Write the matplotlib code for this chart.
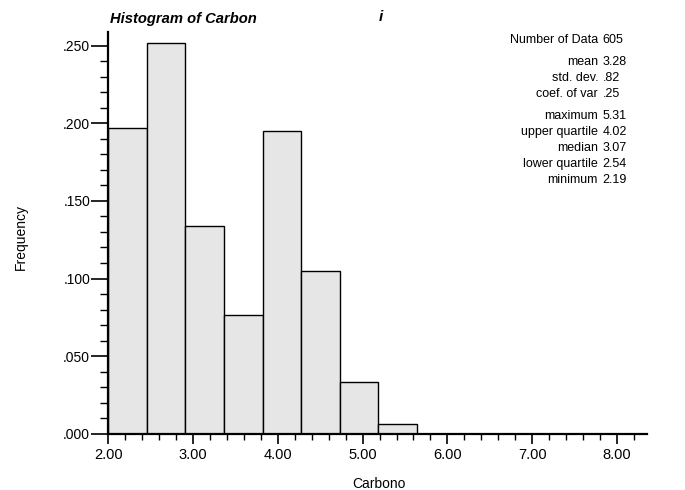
import numpy as np
import matplotlib
matplotlib.use('Agg')
import matplotlib.pyplot as plt
from matplotlib.ticker import MultipleLocator, FuncFormatter

plt.rcParams['font.family'] = ['Liberation Sans', 'DejaVu Sans']

# histogram of Carbon (relative frequency per class)
bin_edges = [2.0, 2.455, 2.91, 3.365, 3.82, 4.275, 4.73, 5.185, 5.64]
frequency = [0.197, 0.252, 0.134, 0.0765, 0.195, 0.105, 0.0335, 0.0063]

stat_labels = ['Number of Data', 'mean', 'std. dev.', 'coef. of var',
               'maximum', 'upper quartile', 'median', 'lower quartile', 'minimum']
stat_values = ['605', '3.28', '.82', '.25', '5.31', '4.02', '3.07', '2.54', '2.19']

fig = plt.figure(figsize=(6.85, 4.9), dpi=100)
ax = fig.add_axes([0.158, 0.115, 0.786, 0.820])

edges = np.array(bin_edges)
ax.bar(edges[:-1], frequency, width=np.diff(edges), align='edge',
       color='#e6e6e6', edgecolor='black', linewidth=1.0)

ax.set_xlim(2.0, 8.35)
ax.set_ylim(0, 0.259)
ax.xaxis.set_major_locator(MultipleLocator(1.0))
ax.xaxis.set_minor_locator(MultipleLocator(0.2))
ax.yaxis.set_major_locator(MultipleLocator(0.05))
ax.yaxis.set_minor_locator(MultipleLocator(0.01))
ax.xaxis.set_major_formatter(FuncFormatter(lambda v, p: f'{v:.2f}'))
ax.yaxis.set_major_formatter(FuncFormatter(lambda v, p: f'{v:.3f}'.lstrip('0')))

for s in ['top', 'right']:
    ax.spines[s].set_visible(False)
for s in ['left', 'bottom']:
    ax.spines[s].set_linewidth(1.6)

ax.tick_params(axis='both', which='major', direction='out', width=1.2,
               colors='black')
ax.tick_params(axis='x', which='major', length=7, pad=3, labelsize=10.5)
ax.tick_params(axis='x', which='minor', length=4, width=1.0)
ax.tick_params(axis='y', which='major', length=12, pad=1, labelsize=10)
ax.tick_params(axis='y', which='minor', length=6, width=1.0)

ax.set_xlabel('Carbono', fontsize=10)
ax.set_ylabel('Frequency', fontsize=10)
ax.xaxis.set_label_coords(0.502, -0.108)
ax.yaxis.set_label_coords(-0.150, 0.49)

fig.text(0.161, 0.953, 'Histogram of Carbon', fontsize=10.6, fontweight='bold',
         fontstyle='italic', ha='left', va='baseline')
fig.text(0.553, 0.957, 'i', fontsize=11, fontweight='bold', fontstyle='italic',
         ha='left', va='baseline')

rows_y = [39, 61, 77, 93, 115, 131, 147, 163, 179]
for y, lab, val in zip(rows_y, stat_labels, stat_values):
    fy = 1 - (y + 4) / 490
    fig.text(0.873, fy, lab, fontsize=9, ha='right', va='baseline')
    fig.text(0.880, fy, val, fontsize=9, ha='left', va='baseline')

fig.savefig('out.png', dpi=100)
